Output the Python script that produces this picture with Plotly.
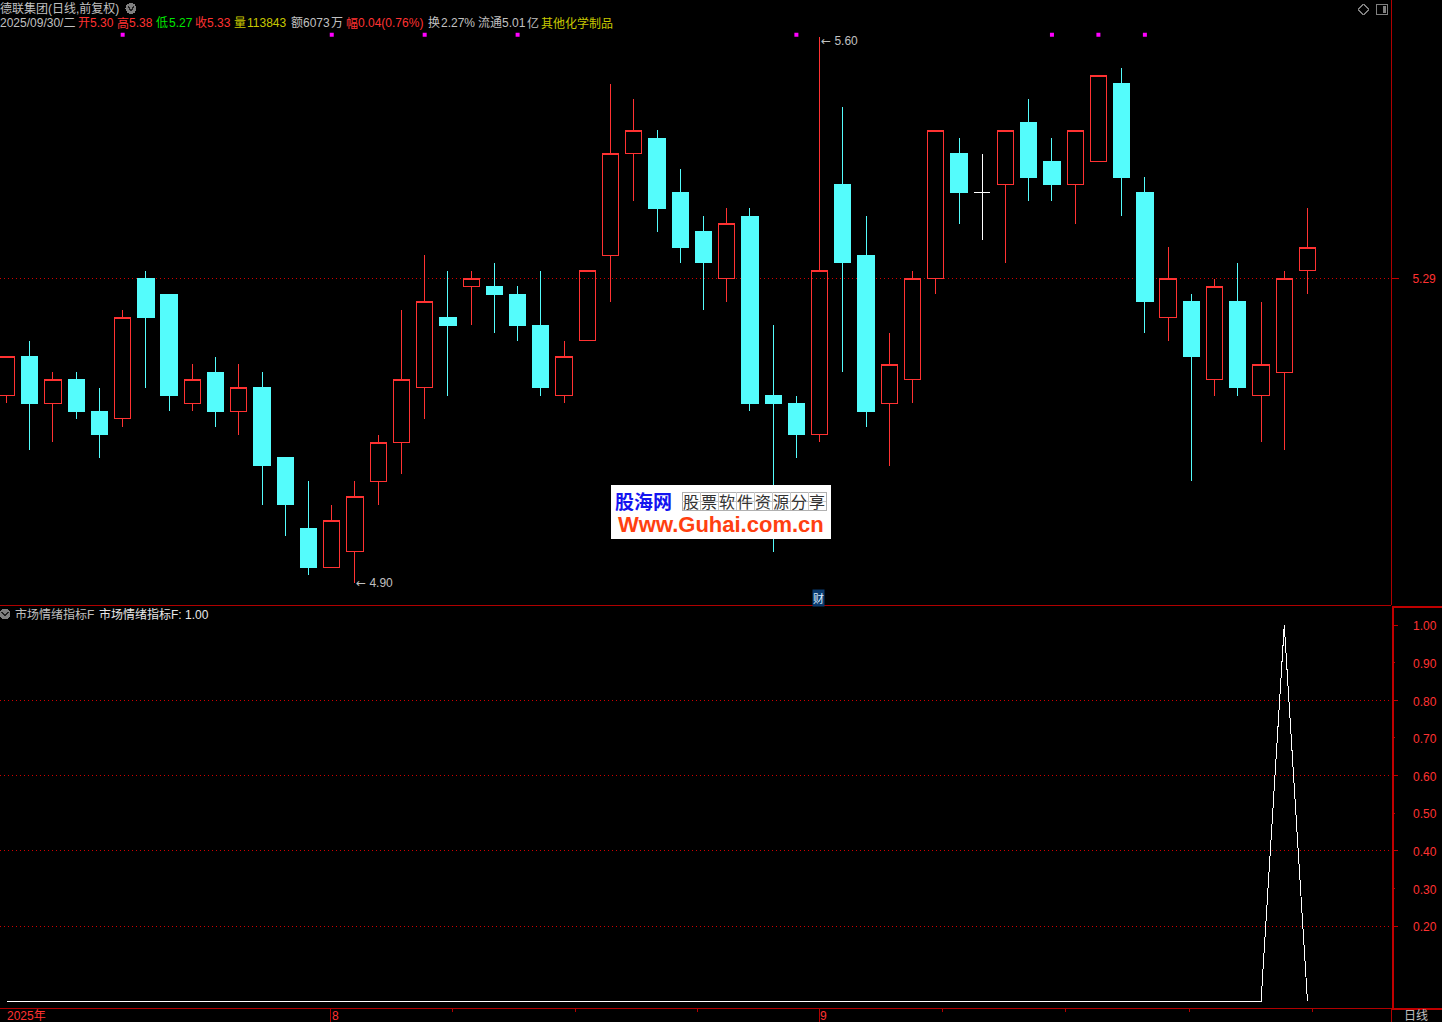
import plotly.graph_objects as go

W, H = 1442, 1022
RED = "#FF3232"
DARK = "#C00000"
CYAN = "#54FCFC"
GREY = "#C0C0C0"
YEL = "#C8C800"
GRN = "#00E600"
FONT = "Liberation Sans, Noto Sans CJK SC, sans-serif"
CJK = "Noto Sans CJK SC, sans-serif"

opens = [5.14,5.19,5.13,5.16,5.12,5.11,5.29,5.27,5.13,5.17,5.12,5.15,5.06,4.97,4.92,4.94,5.03,5.08,5.15,5.24,
         5.28,5.28,5.27,5.23,5.14,5.21,5.32,5.45,5.47,5.40,5.35,5.29,5.37,5.14,5.13,5.09,5.41,5.32,5.13,5.16,
         5.29,5.45,5.40,5.41,5.49,5.44,5.41,5.44,5.54,5.40,5.24,5.26,5.16,5.26,5.14,5.17,5.30]
highs = [5.19,5.21,5.17,5.17,5.15,5.25,5.30,5.27,5.18,5.19,5.18,5.17,5.06,5.03,5.00,5.03,5.09,5.25,5.32,5.30,
         5.30,5.31,5.28,5.30,5.21,5.30,5.54,5.52,5.48,5.43,5.37,5.38,5.38,5.23,5.14,5.60,5.51,5.37,5.22,5.30,
         5.48,5.47,5.45,5.48,5.52,5.47,5.48,5.55,5.56,5.42,5.33,5.27,5.29,5.31,5.26,5.30,5.38]
lows  = [5.13,5.07,5.08,5.11,5.06,5.10,5.15,5.12,5.12,5.10,5.09,5.00,4.96,4.91,4.92,4.90,5.00,5.04,5.11,5.14,
         5.23,5.22,5.21,5.14,5.13,5.21,5.26,5.39,5.35,5.31,5.25,5.26,5.12,4.94,5.06,5.08,5.17,5.10,5.05,5.13,
         5.27,5.36,5.34,5.31,5.39,5.39,5.36,5.44,5.37,5.22,5.21,5.03,5.14,5.14,5.08,5.07,5.27]
closes= [5.19,5.13,5.16,5.12,5.09,5.24,5.24,5.14,5.16,5.12,5.15,5.05,5.00,4.92,4.98,5.01,5.08,5.16,5.26,5.23,
         5.29,5.27,5.23,5.15,5.19,5.30,5.45,5.48,5.38,5.33,5.31,5.36,5.13,5.13,5.09,5.30,5.31,5.12,5.18,5.29,
         5.48,5.40,5.40,5.48,5.42,5.41,5.48,5.55,5.42,5.26,5.29,5.19,5.28,5.15,5.18,5.29,5.33]
indicator = [0.0]*55 + [1.0, 0.0]
signal_bars = [5, 14, 18, 22, 34, 45, 47, 49]
signal_level = 5.6025
last_price = 5.29
ind_ticks = [0.20,0.30,0.40,0.50,0.60,0.70,0.80,0.90,1.00]
ind_grid = [0.20,0.40,0.60,0.80]
bars = list(range(len(opens)))
doji = [i for i in bars if opens[i] == closes[i]]
rest = [i for i in bars if opens[i] != closes[i]]

def px_x(p):
    return p / W
def px_y(p):
    return 1 - p / H

fig = go.Figure()
pick = lambda a, idx: [a[i] for i in idx]
fig.add_trace(go.Candlestick(
    x=rest, open=pick(opens, rest), high=pick(highs, rest), low=pick(lows, rest), close=pick(closes, rest),
    increasing=dict(line=dict(color=RED, width=1), fillcolor="rgba(0,0,0,0)"),
    decreasing=dict(line=dict(color=CYAN, width=1), fillcolor=CYAN),
    whiskerwidth=0, showlegend=False, xaxis="x", yaxis="y"))
fig.add_trace(go.Candlestick(
    x=doji, open=pick(opens, doji), high=pick(highs, doji), low=pick(lows, doji), close=pick(closes, doji),
    increasing=dict(line=dict(color="#FFFFFF", width=1), fillcolor="#FFFFFF"),
    decreasing=dict(line=dict(color="#FFFFFF", width=1), fillcolor="#FFFFFF"),
    whiskerwidth=0, showlegend=False, xaxis="x", yaxis="y"))
fig.add_trace(go.Scatter(
    x=signal_bars, y=[signal_level]*len(signal_bars), mode="markers",
    marker=dict(symbol="square", size=4, color="#FF00FF", line=dict(width=0)),
    showlegend=False, xaxis="x", yaxis="y"))
fig.add_trace(go.Scatter(
    x=bars, y=indicator, mode="lines", line=dict(color="#FFFFFF", width=1),
    showlegend=False, xaxis="x2", yaxis="y2"))

annots = []
def text(x, y, s, color=GREY, size=12, family=FONT, anchor="left", **kw):
    annots.append(dict(xref="paper", yref="paper", x=px_x(x - (1 if anchor == "left" else 0)), y=px_y(y), text=s,
                       showarrow=False, xanchor=anchor, yanchor="middle", align="left",
                       font=dict(size=size, color=color, family=family), borderpad=0, **kw))

text(0, 9, "德联集团(日线,前复权)")
for x, s, c in [(0,"2025/09/30/二",GREY),(78,"开",RED),(90,"5.30",RED),(117,"高",RED),(129,"5.38",RED),
                (156,"低",GRN),(169,"5.27",GRN),(195,"收",RED),(207,"5.33",RED),(234,"量",YEL),(247,"113843",YEL),
                (291,"额",GREY),(303,"6073",GREY),(331,"万",GREY),(346,"幅",RED),(358,"0.04(0.76%)",RED),
                (428,"换",GREY),(441,"2.27%",GREY),(478,"流通",GREY),(502,"5.01",GREY),(527,"亿",GREY),
                (541,"其他化学制品",YEL)]:
    text(x, 23, s, c)
text(15, 614, "市场情绪指标F")
text(99, 614, "市场情绪指标F: 1.00", "#E8E8E8")
text(1404, 1015.5, "日线")
text(7, 1015.5, "2025年", RED)
text(331.5, 1015.5, "8", RED)
text(820, 1015.5, "9", RED)

arrow = '<span style="font-family:DejaVu Sans">←</span>'
for i, p, yoff in [(highs.index(max(highs)), max(highs), -4.5), (lows.index(min(lows)), min(lows), 0)]:
    annots.append(dict(xref="x", yref="y", x=i, y=p, text=arrow + " %.2f" % p, showarrow=False, xanchor="left",
                       yanchor="middle", yshift=yoff, xshift=-1, font=dict(size=12, color=GREY, family=FONT)))

text(813, 598, "财", "#DDEEFF", 11, CJK, bgcolor="#0A3A6E")

text(615, 500, "<b>股海网</b>", "#1414F0", 19, CJK)
for k, ch in enumerate("股票软件资源分享"):
    text(691 + 18*k, 500.5, ch, "#333333", 16, CJK, anchor="center")
text(721, 524, "<b>Www.Guhai.com.cn</b>", "#FF4010", 22, FONT, anchor="center")

shapes = []
def rect(x0, y0, x1, y1, line=None, width=1, fill=None, layer="above"):
    shapes.append(dict(type="rect", xref="paper", yref="paper", x0=px_x(x0), x1=px_x(x1), y0=px_y(y0), y1=px_y(y1),
                       line=dict(color=line or "rgba(0,0,0,0)", width=width if line else 0),
                       fillcolor=fill or "rgba(0,0,0,0)", layer=layer))
def seg(x0, y0, x1, y1, color, width=1, dash="solid", layer="above"):
    shapes.append(dict(type="line", xref="paper", yref="paper", x0=px_x(x0), x1=px_x(x1), y0=px_y(y0), y1=px_y(y1),
                       line=dict(color=color, width=width, dash=dash), layer=layer))

shapes.append(dict(type="line", xref="paper", yref="y", x0=0, x1=px_x(1391), y0=last_price, y1=last_price,
                   line=dict(color="#D00000", width=1, dash="1px,3px"), layer="below"))
for v in ind_grid:
    shapes.append(dict(type="line", xref="paper", yref="y2", x0=0, x1=px_x(1391), y0=v, y1=v,
                       line=dict(color="#D00000", width=1, dash="1px,3px"), layer="below"))
for v in ind_ticks:
    long_tick = round(v * 10) % 2 == 0
    shapes.append(dict(type="line", xref="paper", yref="y2", x0=px_x(1392), x1=px_x(1398 if long_tick else 1395),
                       y0=v, y1=v, line=dict(color=DARK, width=1)))

seg(0, 605.5, 1391, 605.5, "#B00000")
seg(0, 1008.5, 1391, 1008.5, "#B00000")
seg(1391.5, 0, 1391.5, 605, "#B00000")
seg(1391.5, 1008, 1391.5, H, "#B00000")
seg(1392, 606.5, W, 606.5, DARK, 2)
seg(1392, 1008.5, W, 1008.5, DARK, 2)
seg(1392.5, 606, 1392.5, 1009, DARK, 2)

rect(611, 485, 831, 539, fill="#FFFFFF")
rect(682, 492, 826, 510, line="#B0B0B0")
seg(682, 501, 826, 501, "#C8C8C8")
for k in range(1, 8):
    seg(682 + 18*k, 492, 682 + 18*k, 510, "#C8C8C8")

for cx, cy in [(131, 8.5), (5, 614)]:
    shapes.append(dict(type="circle", xref="paper", yref="paper", x0=px_x(cx-5.5), x1=px_x(cx+5.5),
                       y0=px_y(cy+5.5), y1=px_y(cy-5.5), fillcolor="#808080", line=dict(width=0)))
    seg(cx-3, cy-2, cx, cy+2, "#202020", 1.5)
    seg(cx, cy+2, cx+3, cy-2, "#202020", 1.5)
seg(1363.5, 4, 1369, 9.5, "#808080"); seg(1369, 9.5, 1363.5, 15, "#808080")
seg(1363.5, 15, 1358, 9.5, "#808080"); seg(1358, 9.5, 1363.5, 4, "#808080")
rect(1376.5, 4.5, 1387.5, 14.5, line="#808080")
rect(1383, 6, 1386, 13, fill="#808080")

STEP = (1307.5 - 6.5) / 56
X_RANGE = [-6.5 / STEP, (1391 - 6.5) / STEP]
PX_PER = 780.0
y_top = last_price + 278.5 / PX_PER
y_bot = last_price - (605 - 278.5) / PX_PER
ind_px = 376.5
i_top = 1 + (625 - 606) / ind_px
i_bot = -(1008 - 1001.5) / ind_px

ax_common = dict(showgrid=False, zeroline=False, showline=False)
fig.update_layout(
    width=W, height=H, margin=dict(l=0, r=0, t=0, b=0), autosize=False,
    paper_bgcolor="#000000", plot_bgcolor="rgba(0,0,0,0)", showlegend=False,
    boxgap=0.30, boxgroupgap=0, dragmode=False,
    font=dict(family=FONT, size=12, color=GREY),
    xaxis=dict(domain=[0, 1391/W], range=X_RANGE, anchor="y", showticklabels=False, ticks="",
               rangeslider=dict(visible=False), **ax_common),
    xaxis2=dict(domain=[0, 1391/W], range=X_RANGE, anchor="y2", matches="x", tickmode="array",
                tickvals=[13.95, 35], ticktext=["", ""], ticks="outside", ticklen=14, tickcolor="#B00000", tickwidth=1,
                minor=dict(tickmode="array", tickvals=[19.2, 24.5, 29.75, 40.3, 45.6, 50.9, 56.2],
                           ticks="outside", ticklen=3, tickcolor="#B00000", tickwidth=1),
                **ax_common),
    yaxis=dict(domain=[px_y(605), 1], range=[y_bot, y_top], anchor="x", side="right", tickmode="array",
               tickvals=[last_price], ticktext=["%.2f" % last_price], ticks="outside", ticklen=7, tickcolor=DARK,
               tickfont=dict(color=RED, size=12, family=FONT), ticklabelstandoff=11, **ax_common),
    yaxis2=dict(domain=[px_y(1008), px_y(606)], range=[i_bot, i_top], anchor="x2", side="right", tickmode="array",
                tickvals=ind_ticks, ticktext=["%.2f" % v for v in ind_ticks], ticks="",
                tickfont=dict(color=RED, size=12, family=FONT), ticklabelstandoff=21, ticklabelshift=1, **ax_common),
    annotations=annots, shapes=shapes,
)
css = (".boxlayer path,.scatterlayer .js-line,.shapelayer path{shape-rendering:crispEdges}")
fig.write_html("out.html", config=dict(displayModeBar=False),
               post_script="document.body.style.margin='0';document.body.style.overflow='hidden';"
                           "var s=document.createElement('style');s.textContent='" + css + "';document.head.appendChild(s);")
